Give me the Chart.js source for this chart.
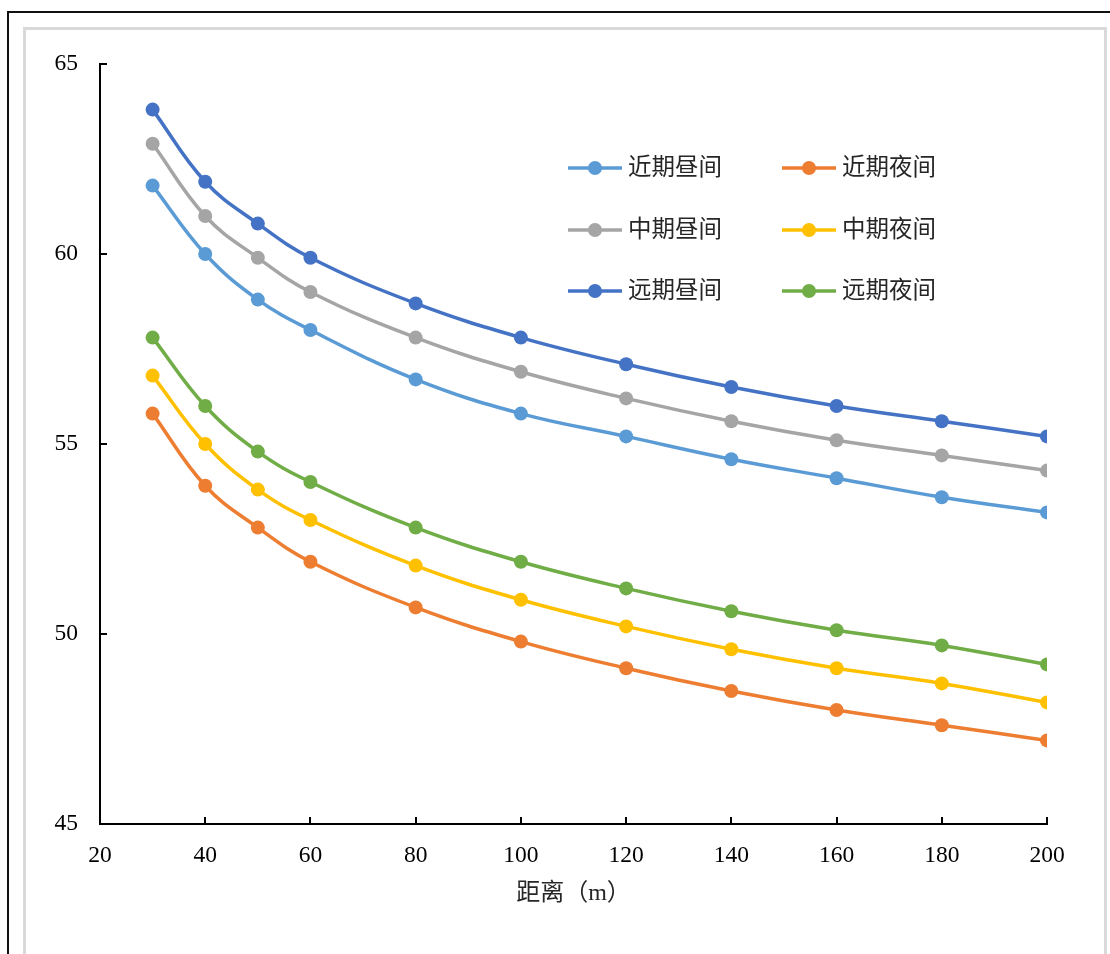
<!DOCTYPE html>
<html>
<head>
<meta charset="utf-8">
<script src="https://cdn.jsdelivr.net/npm/chart.js@4.4.1/dist/chart.umd.min.js"></script>
<style>
  html, body { margin: 0; padding: 0; background: #fff; }
  #wrap { position: relative; width: 1110px; height: 954px; overflow: hidden; }
  #outer { position: absolute; left: 7px; top: 11px; width: 1110px; height: 960px;
           border-left: 2px solid #111; border-top: 2px solid #111; }
  #inner { position: absolute; left: 23px; top: 27px; width: 1078px; height: 960px;
           border: 3px solid #d9d9d9; }
  canvas { position: absolute; left: 0; top: 0; }
</style>
</head>
<body>
<div id="wrap">
  <div id="outer"></div>
  <div id="inner"></div>
  <canvas id="noiseChart" width="1110" height="954"></canvas>
</div>
<script>
const distances = [30, 40, 50, 60, 80, 100, 120, 140, 160, 180, 200];
const seriesNames = ['近期昼间', '近期夜间', '中期昼间', '中期夜间', '远期昼间', '远期夜间'];
const seriesColors = ['#5B9BD5', '#ED7D31', '#A5A5A5', '#FFC000', '#4472C4', '#70AD47'];

const nearDay   = [61.8, 60.0, 58.8, 58.0, 56.7, 55.8, 55.2, 54.6, 54.1, 53.6, 53.2];
const nearNight = [55.8, 53.9, 52.8, 51.9, 50.7, 49.8, 49.1, 48.5, 48.0, 47.6, 47.2];
const midDay    = [62.9, 61.0, 59.9, 59.0, 57.8, 56.9, 56.2, 55.6, 55.1, 54.7, 54.3];
const midNight  = [56.8, 55.0, 53.8, 53.0, 51.8, 50.9, 50.2, 49.6, 49.1, 48.7, 48.2];
const farDay    = [63.8, 61.9, 60.8, 59.9, 58.7, 57.8, 57.1, 56.5, 56.0, 55.6, 55.2];
const farNight  = [57.8, 56.0, 54.8, 54.0, 52.8, 51.9, 51.2, 50.6, 50.1, 49.7, 49.2];

const xTicks = [20, 40, 60, 80, 100, 120, 140, 160, 180, 200];
const yTicks = [45, 50, 55, 60, 65];
const xTitle = '距离（m）';

const allSeries = [nearDay, nearNight, midDay, midNight, farDay, farNight];

const FONT = "'Liberation Serif', 'Noto Sans CJK SC', serif";

const datasets = allSeries.map((vals, i) => ({
  label: seriesNames[i],
  data: distances.map((d, j) => ({ x: d, y: vals[j] })),
  borderColor: seriesColors[i],
  backgroundColor: seriesColors[i],
  borderWidth: 3.5,
  pointRadius: 7,
  pointHoverRadius: 7,
  pointBorderWidth: 0,
  tension: 0.4,
  fill: false
}));

// inner tick marks (Excel style, pointing into the plot)
const innerTicks = {
  id: 'innerTicks',
  afterDatasetsDraw(chart) {
    const ctx = chart.ctx;
    const xs = chart.scales.x, ys = chart.scales.y;
    const area = chart.chartArea;
    ctx.save();
    ctx.strokeStyle = '#000';
    ctx.lineWidth = 2;
    ctx.beginPath();
    xTicks.forEach(v => {
      const px = Math.round(xs.getPixelForValue(v));
      ctx.moveTo(px, area.bottom);
      ctx.lineTo(px, area.bottom - 7);
    });
    yTicks.forEach(v => {
      const py = Math.round(ys.getPixelForValue(v));
      ctx.moveTo(area.left, py);
      ctx.lineTo(area.left + 7, py);
    });
    ctx.stroke();
    ctx.restore();
  }
};

// legend drawn inside the plot: 3 rows x 2 columns
const innerLegend = {
  id: 'innerLegend',
  afterDraw(chart) {
    const ctx = chart.ctx;
    const colX = [568, 782];
    const rowY = [168, 230, 291];
    ctx.save();
    ctx.font = "23.5px " + FONT;
    ctx.textBaseline = 'middle';
    chart.data.datasets.forEach((ds, i) => {
      const x = colX[i % 2], y = rowY[Math.floor(i / 2)];
      ctx.strokeStyle = ds.borderColor;
      ctx.lineWidth = 3.5;
      ctx.beginPath();
      ctx.moveTo(x, y);
      ctx.lineTo(x + 54, y);
      ctx.stroke();
      ctx.fillStyle = ds.borderColor;
      ctx.beginPath();
      ctx.arc(x + 27, y, 7, 0, Math.PI * 2);
      ctx.fill();
      ctx.fillStyle = '#262626';
      ctx.fillText(ds.label, x + 60, y + 1);
    });
    ctx.restore();
  }
};

new Chart(document.getElementById('noiseChart'), {
  type: 'line',
  data: { datasets },
  options: {
    responsive: false,
    animation: false,
    layout: { padding: { left: 0, top: 64, right: 63, bottom: 46 } },
    plugins: {
      legend: { display: false },
      tooltip: { enabled: false }
    },
    scales: {
      x: {
        type: 'linear',
        min: 20, max: 200,
        afterBuildTicks: s => { s.ticks = xTicks.map(v => ({ value: v })); },
        afterFit: s => { s.height = 84; },
        grid: { display: false, drawTicks: false },
        border: { display: true, color: '#000', width: 2 },
        ticks: { color: '#000', padding: 18, font: { family: FONT, size: 23.5 } },
        title: { display: true, text: xTitle, color: '#262626', padding: { top: 4, bottom: 0 },
                 font: { family: FONT, size: 24 } }
      },
      y: {
        min: 45, max: 65,
        afterBuildTicks: s => { s.ticks = yTicks.map(v => ({ value: v })); },
        afterFit: s => { s.width = 100; },
        grid: { display: false, drawTicks: false },
        border: { display: true, color: '#000', width: 2 },
        ticks: { color: '#000', padding: 22, font: { family: FONT, size: 23.5 } }
      }
    }
  },
  plugins: [innerTicks, innerLegend]
});
</script>
</body>
</html>
